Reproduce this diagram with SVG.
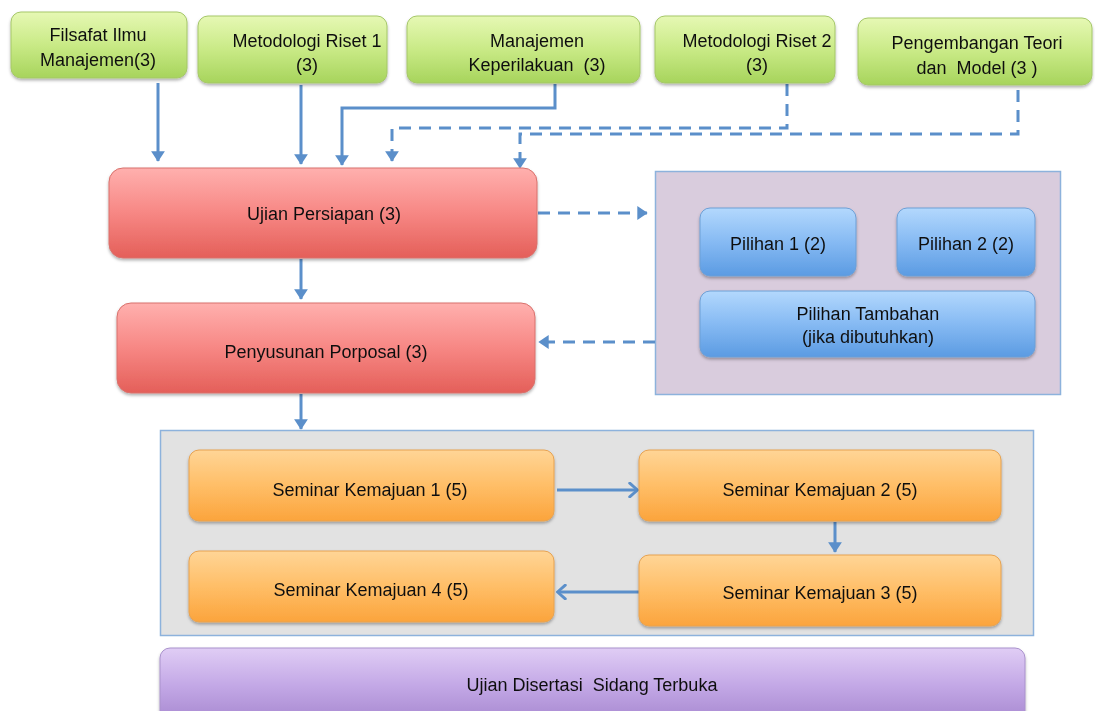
<svg xmlns="http://www.w3.org/2000/svg" width="1095" height="711" viewBox="0 0 1095 711">
<defs>
<linearGradient id="gGreen" x1="0" y1="0" x2="0" y2="1"><stop offset="0" stop-color="#e6f8b4"/><stop offset="0.5" stop-color="#c9ea86"/><stop offset="1" stop-color="#a7d45c"/></linearGradient>
<linearGradient id="gRed" x1="0" y1="0" x2="0" y2="1"><stop offset="0" stop-color="#ffb0ae"/><stop offset="0.5" stop-color="#f78784"/><stop offset="1" stop-color="#e45f59"/></linearGradient>
<linearGradient id="gBlue" x1="0" y1="0" x2="0" y2="1"><stop offset="0" stop-color="#b3d8fd"/><stop offset="0.5" stop-color="#86baf3"/><stop offset="1" stop-color="#5b9be2"/></linearGradient>
<linearGradient id="gOrange" x1="0" y1="0" x2="0" y2="1"><stop offset="0" stop-color="#ffd596"/><stop offset="0.5" stop-color="#ffbe67"/><stop offset="1" stop-color="#fba43c"/></linearGradient>
<linearGradient id="gPurple" x1="0" y1="0" x2="0" y2="1"><stop offset="0" stop-color="#e0cdf5"/><stop offset="0.5" stop-color="#c3a8e6"/><stop offset="1" stop-color="#a687cf"/></linearGradient>
<filter id="sh" x="-10%" y="-10%" width="120%" height="130%"><feDropShadow dx="0" dy="2" stdDeviation="1.5" flood-color="#000" flood-opacity="0.3"/></filter>
<marker id="ah" viewBox="0 0 10 10" refX="7" refY="5" markerWidth="4.6" markerHeight="4.6" orient="auto" markerUnits="strokeWidth"><path d="M0,0 L7.5,5 L0,10 z" fill="#5b8fca"/></marker>
<marker id="ao" viewBox="0 0 10 10" refX="8" refY="5" markerWidth="5.4" markerHeight="5.4" orient="auto" markerUnits="strokeWidth"><path d="M3.5,0.8 L8.3,5 L3.5,9.2" fill="none" stroke="#5b8fca" stroke-width="1.8" stroke-linecap="round" stroke-linejoin="round"/></marker>
</defs>
<style>
text{font-family:"Liberation Sans",Arial,sans-serif;font-size:18px;fill:#111;text-anchor:middle;white-space:pre}
.green{fill:url(#gGreen);stroke:#a5c768;stroke-width:1}
.red{fill:url(#gRed);stroke:#d8716c;stroke-width:1}
.blue{fill:url(#gBlue);stroke:#6d9fd6;stroke-width:1}
.orange{fill:url(#gOrange);stroke:#e7a250;stroke-width:1}
.purple{fill:url(#gPurple);stroke:#a992cc;stroke-width:1}
.n{filter:url(#sh)}
.c{fill:none;stroke:#5b8fca;stroke-width:3}
.d{stroke-dasharray:12 8}
</style>
<rect width="1095" height="711" fill="#fff"/>

<g id="container-pilihan"><rect x="655.5" y="171.5" width="405" height="223" fill="#d9ccdd" stroke="#8db2dc" stroke-width="1.5"/></g>
<g id="container-seminar"><rect x="160.5" y="430.5" width="873" height="205" fill="#e2e2e2" stroke="#8db2dc" stroke-width="1.5"/></g>

<g id="connectors">
<path class="c" d="M158,83 V161" marker-end="url(#ah)"/>
<path class="c" d="M301,85 V164" marker-end="url(#ah)"/>
<path class="c" d="M555,84 V108 H342 V165" marker-end="url(#ah)"/>
<path class="c d" d="M787,84 V128 H392 V161" marker-end="url(#ah)"/>
<path class="c d" d="M1018,90 V134 H520 V168" marker-end="url(#ah)"/>
<path class="c d" d="M538,213 H647" marker-end="url(#ah)"/>
<path class="c d" d="M655,342 H539" marker-end="url(#ah)"/>
<path class="c" d="M301,259 V299" marker-end="url(#ah)"/>
<path class="c" d="M301,394 V429" marker-end="url(#ah)"/>
<path class="c" d="M557,490 H637" marker-end="url(#ao)"/>
<path class="c" d="M835,522 V552" marker-end="url(#ah)"/>
<path class="c" d="M640,592 H558" marker-end="url(#ao)"/>
</g>

<g id="filsafat" class="n"><rect class="green" x="11" y="12" width="176" height="66" rx="10"/><text x="98" y="41">Filsafat Ilmu</text><text x="98" y="66">Manajemen(3)</text></g>
<g id="metodologi1" class="n"><rect class="green" x="198" y="16" width="189" height="67" rx="10"/><text x="307" y="47">Metodologi Riset 1</text><text x="307" y="71">(3)</text></g>
<g id="manajemen" class="n"><rect class="green" x="407" y="16" width="233" height="67" rx="10"/><text x="537" y="47">Manajemen</text><text x="537" y="71">Keperilakuan  (3)</text></g>
<g id="metodologi2" class="n"><rect class="green" x="655" y="16" width="180" height="67" rx="10"/><text x="757" y="47">Metodologi Riset 2</text><text x="757" y="71">(3)</text></g>
<g id="pengembangan" class="n"><rect class="green" x="858" y="18" width="234" height="67" rx="10"/><text x="977" y="49">Pengembangan Teori</text><text x="977" y="74">dan  Model (3 )</text></g>

<g id="ujian-persiapan" class="n"><rect class="red" x="109" y="168" width="428" height="90" rx="14"/><text x="324" y="220">Ujian Persiapan (3)</text></g>
<g id="penyusunan" class="n"><rect class="red" x="117" y="303" width="418" height="90" rx="14"/><text x="326" y="358">Penyusunan Porposal (3)</text></g>

<g id="pilihan1" class="n"><rect class="blue" x="700" y="208" width="156" height="68" rx="10"/><text x="778" y="250">Pilihan 1 (2)</text></g>
<g id="pilihan2" class="n"><rect class="blue" x="897" y="208" width="138" height="68" rx="10"/><text x="966" y="250">Pilihan 2 (2)</text></g>
<g id="pilihan-tambahan" class="n"><rect class="blue" x="700" y="291" width="335" height="66" rx="10"/><text x="868" y="320">Pilihan Tambahan</text><text x="868" y="343">(jika dibutuhkan)</text></g>

<g id="seminar1" class="n"><rect class="orange" x="189" y="450" width="365" height="71" rx="10"/><text x="370" y="496">Seminar Kemajuan 1 (5)</text></g>
<g id="seminar2" class="n"><rect class="orange" x="639" y="450" width="362" height="71" rx="10"/><text x="820" y="496">Seminar Kemajuan 2 (5)</text></g>
<g id="seminar3" class="n"><rect class="orange" x="639" y="555" width="362" height="71" rx="10"/><text x="820" y="599">Seminar Kemajuan 3 (5)</text></g>
<g id="seminar4" class="n"><rect class="orange" x="189" y="551" width="365" height="71" rx="10"/><text x="371" y="596">Seminar Kemajuan 4 (5)</text></g>

<g id="ujian-disertasi" class="n"><rect class="purple" x="160" y="648" width="865" height="75" rx="10"/><text x="592" y="691">Ujian Disertasi  Sidang Terbuka</text></g>
</svg>
